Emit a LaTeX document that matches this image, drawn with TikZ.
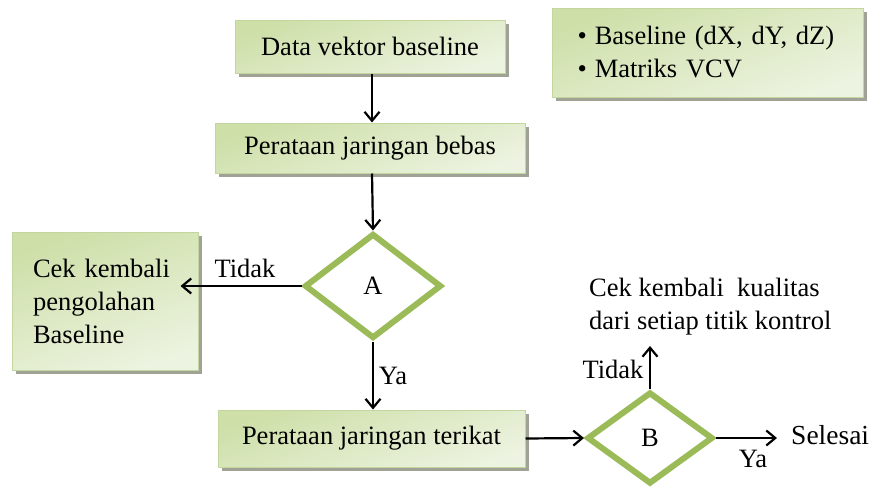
\documentclass[tikz,border=0pt]{standalone}
\usepackage{fontspec}
\setmainfont{Liberation Serif}
\usetikzlibrary{shapes.geometric,shadows,arrows.meta}
\definecolor{boxtop}{RGB}{206,223,168}
\definecolor{boxbot}{RGB}{236,243,224}
\definecolor{boxline}{RGB}{196,214,160}
\definecolor{dgreen}{RGB}{155,187,89}
\definecolor{shade}{RGB}{160,162,150}
\tikzset{
  every node/.style={font=\fontsize{26.5}{33}\selectfont},
  procbox/.style={rectangle, draw=boxline, line width=1pt,
    top color=boxtop, bottom color=boxbot, shading angle=20,
    drop shadow={shadow xshift=4pt, shadow yshift=-4pt, fill=shade, opacity=1},
    inner sep=0pt, align=center},
  decision/.style={diamond, draw=dgreen, line width=6pt, fill=white,
    inner sep=0pt},
  lbl/.style={inner sep=0pt},
  arr/.style={-{Straight Barb[length=9pt,width=15pt,line width=2.2pt]}, line width=2.2pt, black},
}
\begin{document}
\begin{tikzpicture}[x=1pt,y=-1pt]
\useasboundingbox (0,0) rectangle (875,488);

% process boxes
\node[procbox, minimum width=270pt, minimum height=53pt] (data) at (370,46.5) {Data vektor baseline};
\node[procbox, minimum width=310pt, minimum height=50pt] (bebas) at (370,148) {Perataan jaringan bebas};
\node[procbox, minimum width=307pt, minimum height=57pt] (terikat) at (371.5,438.5) {Perataan jaringan terikat};
\node[procbox, minimum width=186pt, minimum height=138pt, text width=144pt, align=left] (cek) at (105,301)
  {Cek kembali\\pengolahan\\Baseline};
\node[procbox, minimum width=311pt, minimum height=89pt, text width=260pt, align=left] (legend) at (707.5,52.5)
  {\textbullet\hspace{8pt}Baseline (dX, dY, dZ)\\\textbullet\hspace{8pt}Matriks VCV};

% decisions
\node[decision, minimum width=137pt, minimum height=105pt] (A) at (373,286) {A};
\node[decision, minimum width=126pt, minimum height=92pt] (B) at (650,438) {B};

% end and check texts
\node[lbl, anchor=west, font=\fontsize{27.5}{33}\selectfont] (selesai) at (791,435) {Selesai};
\node[lbl, align=left, anchor=south west] (kual) at (589,335)
  {Cek kembali\ \ kualitas\\dari setiap titik kontrol};
\coordinate (kualend) at (650,346);

% connectors
\draw[arr] (data.south -| 372,0) -- (bebas.north -| 372,0);
\draw[arr] (bebas.south -| 372,0) -- (A.north);
\draw[arr] (A.west) -- ([xshift=-18pt]A.west -| cek.east);
\draw[arr] (A.south) -- (terikat.north -| A.south);
\draw[arr] (terikat.east) -- (B.west);
\draw[arr, shorten >=14pt] (B.east) -- (B.east -| selesai.west);
\draw[arr] (B.north) -- (kualend);

% branch labels
\node[lbl] (tA) at (245,268) {Tidak};
\node[lbl] (yA) at (393,376) {Ya};
\node[lbl] (tB) at (613,369) {Tidak};
\node[lbl] (yB) at (753,459) {Ya};
\end{tikzpicture}
\end{document}
